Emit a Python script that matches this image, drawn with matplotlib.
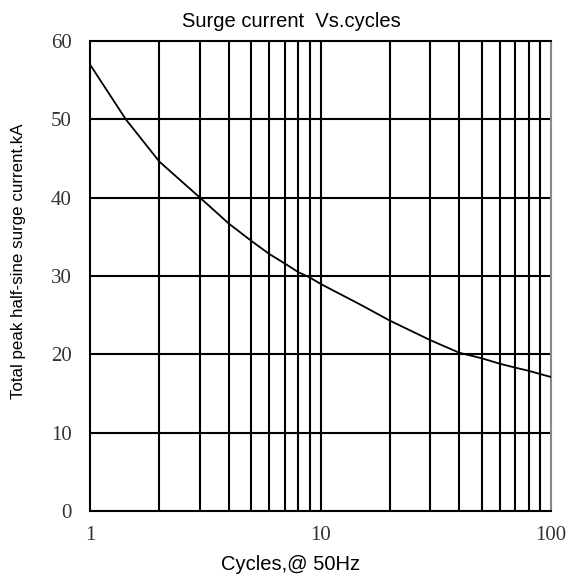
import matplotlib.pyplot as plt
from matplotlib.ticker import FixedLocator, NullLocator, FixedFormatter

# values
cycles = [1, 1.43, 2, 3, 4, 5, 6, 7, 8, 9, 10, 15, 20, 30, 40, 50, 60, 70, 80, 100]
current = [57.0, 50.0, 44.6, 40.0, 36.7, 34.5, 32.8, 31.6, 30.5, 29.8, 29.0,
           26.3, 24.3, 21.8, 20.2, 19.5, 18.8, 18.3, 17.9, 17.1]

x_ticks = [1, 10, 100]
x_labels = ['1', '10', '100']
x_grid = [2, 3, 4, 5, 6, 7, 8, 9, 20, 30, 40, 50, 60, 70, 80, 90]
y_ticks = [0, 10, 20, 30, 40, 50, 60]

W, H = 568, 581
fig = plt.figure(figsize=(W / 100, H / 100), dpi=100)
ax = fig.add_axes([90 / W, 1 - 511 / H, 461 / W, 470 / H])

ax.set_xscale('log')
ax.set_xlim(1, 100)
ax.set_ylim(0, 60)

# grid lines
for gx in x_grid + [10]:
    ax.axvline(gx, color='black', lw=1.5, zorder=1)
for gy in y_ticks[1:-1]:
    ax.axhline(gy, color='black', lw=1.5, zorder=1)

ax.plot(cycles, current, color='black', lw=1.3, zorder=3)

ax.xaxis.set_major_locator(FixedLocator(x_ticks))
ax.xaxis.set_major_formatter(FixedFormatter(x_labels))
ax.xaxis.set_minor_locator(NullLocator())
ax.set_yticks(y_ticks)
ax.tick_params(length=0, labelsize=15)
ax.tick_params(axis='y', pad=13)
ax.tick_params(axis='x', pad=11)
for lbl in ax.get_xticklabels() + ax.get_yticklabels():
    lbl.set_family('Liberation Serif')
    lbl.set_color('#333333')

for side in ['left', 'bottom', 'top']:
    ax.spines[side].set_linewidth(1.5)
ax.spines['right'].set_color('#888888')
ax.spines['right'].set_linewidth(1.5)

# title and labels sit slightly left of the axes centre in the reference
fig.text(291 / W, 1 - 27 / H, 'Surge current  Vs.cycles', family='Liberation Sans',
         fontsize=14.5, ha='center', va='baseline')
fig.text(291 / W, 1 - 570 / H, 'Cycles,@ 50Hz', family='Liberation Sans',
         fontsize=14.5, ha='center', va='baseline')
fig.text(18.5 / W, 1 - 261 / H, 'Total peak half-sine surge current.kA',
         family='Liberation Sans', fontsize=12.2, rotation=90,
         ha='center', va='center')

fig.savefig('out.png', dpi=100)
